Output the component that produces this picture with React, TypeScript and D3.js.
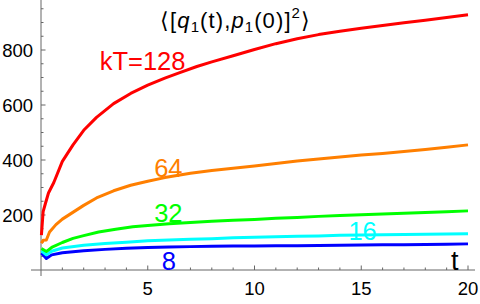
import React from "react";
import * as d3 from "d3";

const tRed = [0.02, 0.1, 0.2, 0.35, 0.6, 1, 1.5, 2, 2.6, 3.4, 4.2, 5, 5.8, 6.5, 7.3, 8, 9, 10, 11, 12, 13, 14, 15, 16, 17, 18, 19, 20];
const vRed = [127, 212, 240, 280, 318, 395, 455, 508, 555, 605, 642, 672, 698, 718, 740, 757, 779, 802, 823, 841, 856, 868, 879, 889, 899, 908, 918, 928];

const tOrange = [0.02, 0.1, 0.25, 0.4, 0.7, 1, 1.4, 2, 2.6, 3.4, 4.2, 5, 5.8, 7, 8, 9, 10, 11, 12, 13, 14, 15, 16, 17, 18, 19, 20];
const vOrange = [97, 108, 109, 138, 165, 185, 205, 235, 262, 288, 308, 323, 336, 352, 362, 370, 378, 387, 396, 404, 411, 418, 424, 431, 438, 446, 455];

const tGreen = [0.02, 0.25, 0.5, 1, 1.5, 2, 2.7, 3.5, 4.3, 5, 6, 7, 8, 9, 10, 11, 12, 13, 14, 15, 16, 17, 18, 19, 20];
const vGreen = [78, 67, 82, 100, 115, 125, 138, 148, 157, 162, 168, 173, 177, 181, 184, 188, 191, 195, 198, 201, 204, 206, 209, 212, 215];

const tCyan = [0.02, 0.25, 0.5, 1, 2, 3, 4, 5, 6, 7, 8, 9, 10, 11, 12, 13, 14, 15, 16, 17, 18, 19, 20];
const vCyan = [70, 55, 68, 80, 90, 96, 101, 106, 109, 112, 114, 117, 119, 121, 123, 124, 126, 127, 128, 129, 130, 131, 132];

const tBlue = [0.02, 0.25, 0.5, 1, 2, 3, 4, 5, 6, 7, 8, 9, 10, 11, 12, 13, 14, 15, 16, 17, 18, 19, 20];
const vBlue = [62, 42, 55, 63, 70, 75, 79, 82, 84, 85, 86, 87, 87, 88, 88, 89, 90, 91, 92, 92, 93, 94, 95];

const seriesNames = ["kT=128", "64", "32", "16", "8"];
const seriesColors = ["#ff0000", "#ff7f00", "#00ff00", "#00ffff", "#0000ff"];
const xMajorTicks = [5, 10, 15, 20];
const yMajorTicks = [200, 400, 600, 800];

const W = 480;
const H = 304;

export default function App() {
  const x = d3.scaleLinear().domain([0, 20]).range([41, 468]);
  const y = d3.scaleLinear().domain([0, 800]).range([270, 50]);

  const series = [
    { t: tRed, v: vRed },
    { t: tOrange, v: vOrange },
    { t: tGreen, v: vGreen },
    { t: tCyan, v: vCyan },
    { t: tBlue, v: vBlue },
  ];
  const line = d3
    .line<[number, number]>()
    .x((d) => x(d[0]))
    .y((d) => y(d[1]));

  const labelPos = [
    { t: 2.75, v: 726 },
    { t: 5.3, v: 338 },
    { t: 5.3, v: 173 },
    { t: 14.4, v: 108 },
    { t: 5.65, v: 0 },
  ];

  const xMinor = d3.range(1, 21).filter((d) => d % 5 !== 0);
  const yMinor = d3.range(50, 1000, 50).filter((d) => d % 200 !== 0);
  const axisColor = "#666";
  const font = "'Liberation Sans', Arial, sans-serif";

  return (
    <svg
      width={W}
      height={H}
      style={{ position: "absolute", left: 0, top: 0, background: "#fff" }}
      fontFamily={font}
    >
      <line x1={31} x2={475} y1={y(0)} y2={y(0)} stroke={axisColor} strokeWidth={1} />
      <line x1={x(0)} x2={x(0)} y1={0} y2={276} stroke={axisColor} strokeWidth={1} />
      {xMinor.map((d) => (
        <line key={"xm" + d} x1={x(d)} x2={x(d)} y1={y(0)} y2={y(0) - 2.5} stroke={axisColor} />
      ))}
      {xMajorTicks.map((d) => (
        <g key={"xM" + d}>
          <line x1={x(d)} x2={x(d)} y1={y(0)} y2={y(0) - 4.5} stroke={axisColor} />
          <text x={x(d)} y={295} textAnchor="middle" fontSize={18.5} fill="#000">
            {d}
          </text>
        </g>
      ))}
      {yMinor.map((d) => (
        <line key={"ym" + d} x1={x(0)} x2={x(0) + 2.5} y1={y(d)} y2={y(d)} stroke={axisColor} />
      ))}
      {yMajorTicks.map((d) => (
        <g key={"yM" + d}>
          <line x1={x(0)} x2={x(0) + 4.5} y1={y(d)} y2={y(d)} stroke={axisColor} />
          <text x={33} y={y(d) + 6.5} textAnchor="end" fontSize={18.5} fill="#000">
            {d}
          </text>
        </g>
      ))}

      {series
        .map((s, i) => ({ s, i }))
        .reverse()
        .map(({ s, i }) => (
          <path
            key={"s" + i}
            d={line(s.t.map((tt, k) => [tt, s.v[k]]) as [number, number][]) || ""}
            fill="none"
            stroke={seriesColors[i]}
            strokeWidth={3}
            strokeLinejoin="round"
          />
        ))}

      {seriesNames.map((name, i) => (
        <text
          key={"l" + i}
          x={x(labelPos[i].t)}
          y={y(labelPos[i].v)}
          fill={seriesColors[i]}
          fontSize={25.5}
        >
          {name}
        </text>
      ))}

      <text x={451} y={270} fontSize={27} fill="#000">
        t
      </text>

      <text x={160} y={28} fontSize={22} fill="#000" letterSpacing={1.1}>
        <tspan>⟨[</tspan>
        <tspan fontStyle="italic">q</tspan>
        <tspan fontSize={15} dy={4}>1</tspan>
        <tspan dy={-4}>(t),</tspan>
        <tspan fontStyle="italic">p</tspan>
        <tspan fontSize={15} dy={4}>1</tspan>
        <tspan dy={-4}>(0)]</tspan>
        <tspan fontSize={15} dy={-10}>2</tspan>
        <tspan dy={10}>⟩</tspan>
      </text>
    </svg>
  );
}
